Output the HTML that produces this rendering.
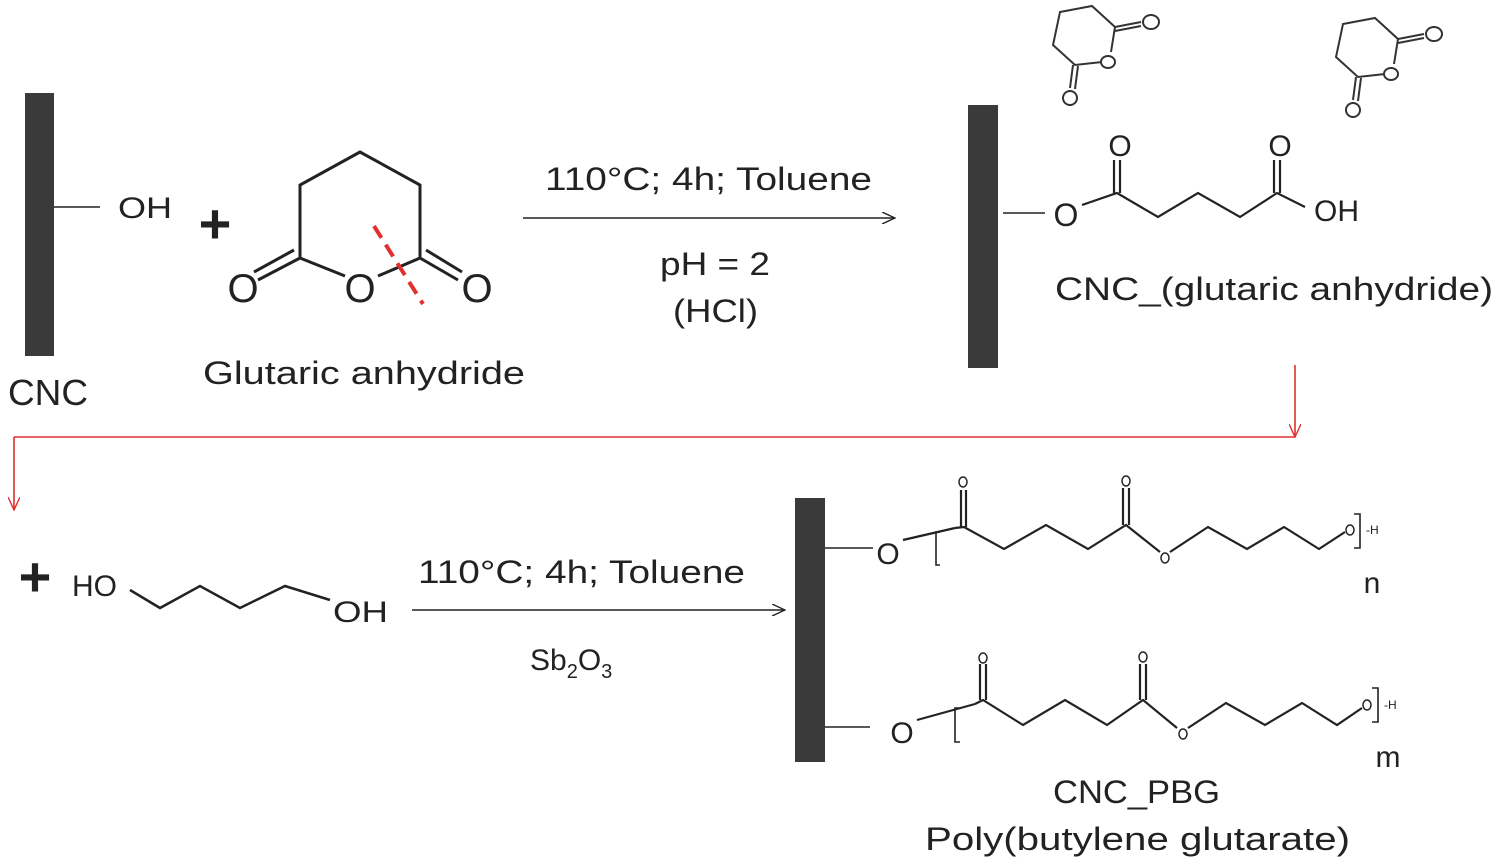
<!DOCTYPE html>
<html><head><meta charset="utf-8"><style>
html,body{margin:0;padding:0;background:#fff;}
svg{display:block;}
text{font-family:"Liberation Sans",sans-serif;fill:#222;}
</style></head><body>
<svg width="1500" height="867" viewBox="0 0 1500 867">
<defs>
<marker id="ab" markerWidth="14" markerHeight="12" refX="13" refY="6" orient="auto" markerUnits="userSpaceOnUse"><path d="M0,0 L13,6 L0,12" fill="none" stroke="#222" stroke-width="1.4"/></marker>
<marker id="ar" markerWidth="14" markerHeight="12" refX="13" refY="6" orient="auto" markerUnits="userSpaceOnUse"><path d="M0,0 L13,6 L0,12" fill="none" stroke="#e03030" stroke-width="1.4"/></marker>
</defs>
<!-- CNC 1 -->
<rect x="25" y="93" width="29" height="263" fill="#3a3a3a"/>
<line x1="54" y1="207" x2="100" y2="207" stroke="#222" stroke-width="1.5"/>
<text x="118" y="218" font-size="30" textLength="54" lengthAdjust="spacingAndGlyphs">OH</text>
<text x="8" y="405" font-size="36" textLength="80" lengthAdjust="spacingAndGlyphs">CNC</text>
<text x="215" y="243" font-size="56" text-anchor="middle" font-weight="bold">+</text>
<!-- Glutaric anhydride -->
<g stroke="#222" stroke-width="3" fill="none">
<polyline points="345,276 300,258 300,185 360,152 420,185 420,258 378,276"/>
<line x1="300" y1="258" x2="258" y2="280"/><line x1="294" y1="250" x2="254" y2="272"/>
<line x1="420" y1="258" x2="458" y2="280"/><line x1="426" y1="250" x2="462" y2="272"/>
</g>
<text x="243" y="302" font-size="40" text-anchor="middle">O</text>
<text x="360" y="302" font-size="40" text-anchor="middle">O</text>
<text x="477" y="302" font-size="40" text-anchor="middle">O</text>
<line x1="374" y1="226" x2="423" y2="304" stroke="#e03030" stroke-width="4" stroke-dasharray="14,8"/>
<text x="203" y="384" font-size="32" textLength="322" lengthAdjust="spacingAndGlyphs">Glutaric anhydride</text>
<!-- Arrow 1 -->
<line x1="523" y1="218" x2="895" y2="218" stroke="#222" stroke-width="1.4" marker-end="url(#ab)"/>
<text x="545" y="190" font-size="32" textLength="327" lengthAdjust="spacingAndGlyphs">110°C; 4h; Toluene</text>
<text x="660" y="275" font-size="32" textLength="110" lengthAdjust="spacingAndGlyphs">pH = 2</text>
<text x="673" y="322" font-size="32" textLength="85" lengthAdjust="spacingAndGlyphs">(HCl)</text>
<!-- CNC 2 -->
<rect x="968" y="105" width="30" height="263" fill="#3a3a3a"/>
<line x1="1003" y1="213" x2="1045" y2="213" stroke="#222" stroke-width="1.5"/>
<text x="1066" y="226" font-size="32" text-anchor="middle">O</text>
<g stroke="#222" stroke-width="2.2" fill="none">
<polyline points="1082,205 1117,193 1158,217 1198,193 1240,217 1277,193 1305,207"/>
<line x1="1114" y1="193" x2="1114" y2="160"/><line x1="1120" y1="193" x2="1120" y2="160"/>
<line x1="1274" y1="193" x2="1274" y2="160"/><line x1="1280" y1="193" x2="1280" y2="160"/>
</g>
<text x="1120" y="156" font-size="30" text-anchor="middle">O</text>
<text x="1280" y="156" font-size="30" text-anchor="middle">O</text>
<text x="1314" y="221" font-size="30">OH</text>
<text x="1055" y="300" font-size="32" textLength="438" lengthAdjust="spacingAndGlyphs">CNC_(glutaric anhydride)</text>
<!-- small rings -->
<g stroke="#333" stroke-width="2" fill="none">
<polyline points="1102,62 1075,65 1053,45 1060,12 1092,6 1115,27 1111,52"/>
<line x1="1115" y1="27" x2="1141" y2="22"/><line x1="1115" y1="31" x2="1141" y2="26"/>
<line x1="1073" y1="65" x2="1070" y2="88"/><line x1="1078" y1="66" x2="1075" y2="89"/>
<polyline points="1385,74 1358,77 1336,57 1343,24 1375,18 1398,39 1394,64"/>
<line x1="1398" y1="39" x2="1424" y2="34"/><line x1="1398" y1="43" x2="1424" y2="38"/>
<line x1="1356" y1="77" x2="1353" y2="100"/><line x1="1361" y1="78" x2="1358" y2="101"/>
</g>
<g stroke="#333" stroke-width="2" fill="none">
<ellipse cx="1108" cy="62" rx="7" ry="6"/><ellipse cx="1151" cy="22" rx="8" ry="7"/><ellipse cx="1070" cy="98" rx="7" ry="7"/>
<ellipse cx="1391" cy="74" rx="7" ry="6"/><ellipse cx="1434" cy="34" rx="8" ry="7"/><ellipse cx="1353" cy="110" rx="7" ry="7"/>
</g>
<!-- Red connector -->
<g stroke="#e03030" stroke-width="1.6" fill="none">
<line x1="1295" y1="365" x2="1295" y2="437" marker-end="url(#ar)"/>
<line x1="1295" y1="437" x2="14" y2="437"/>
<line x1="14" y1="437" x2="14" y2="510" marker-end="url(#ar)"/>
</g>
<!-- Butanediol -->
<text x="35" y="596" font-size="56" text-anchor="middle" font-weight="bold">+</text>
<text x="72" y="596" font-size="30">HO</text>
<polyline points="130,590 160,608 200,586 240,608 285,586 330,600" stroke="#222" stroke-width="2.5" fill="none"/>
<text x="333" y="622" font-size="30" textLength="55" lengthAdjust="spacingAndGlyphs">OH</text>
<!-- Arrow 2 -->
<line x1="412" y1="610" x2="785" y2="610" stroke="#222" stroke-width="1.4" marker-end="url(#ab)"/>
<text x="418" y="583" font-size="32" textLength="327" lengthAdjust="spacingAndGlyphs">110°C; 4h; Toluene</text>
<text x="530" y="670" font-size="30">Sb<tspan font-size="20" dy="8">2</tspan><tspan dy="-8">O</tspan><tspan font-size="20" dy="8">3</tspan></text>
<!-- CNC 3 -->
<rect x="795" y="498" width="30" height="264" fill="#3a3a3a"/>
<line x1="825" y1="548" x2="873" y2="548" stroke="#222" stroke-width="1.5"/>
<line x1="825" y1="727" x2="870" y2="727" stroke="#222" stroke-width="1.5"/>
<text x="888" y="564" font-size="30" text-anchor="middle">O</text>
<text x="902" y="743" font-size="30" text-anchor="middle">O</text>
<g stroke="#222" stroke-width="2.2" fill="none">
<line x1="903" y1="540" x2="955" y2="528"/>
<polyline points="940,532 936,532 936,565 940,565" stroke-width="1.6"/>
<polyline points="955,528 964,527 1004,549 1046,525 1088,549 1126,525 1160,552"/>
<line x1="961" y1="527" x2="961" y2="490"/><line x1="966" y1="527" x2="966" y2="490"/>
<line x1="1123" y1="525" x2="1123" y2="488"/><line x1="1129" y1="525" x2="1129" y2="488"/>
<polyline points="1170,552 1208,527 1247,549 1284,527 1319,549 1345,532"/>
<polyline points="1354,514 1360,514 1360,548 1354,548" stroke-width="1.6"/>
<line x1="917" y1="720" x2="975" y2="704"/>
<polyline points="960,708 955,708 955,742 960,742" stroke-width="1.6"/>
<polyline points="975,704 983,700 1023,725 1065,700 1107,725 1143,700 1177,728"/>
<line x1="980" y1="700" x2="980" y2="664"/><line x1="986" y1="700" x2="986" y2="664"/>
<line x1="1140" y1="700" x2="1140" y2="664"/><line x1="1146" y1="700" x2="1146" y2="664"/>
<polyline points="1188,728 1226,703 1265,725 1302,703 1337,725 1362,708"/>
<polyline points="1372,688 1378,688 1378,722 1372,722" stroke-width="1.6"/>
</g>
<g stroke="#222" stroke-width="1.5" fill="none">
<ellipse cx="963" cy="482" rx="4" ry="5"/><ellipse cx="1126" cy="481" rx="4" ry="5"/><ellipse cx="1165" cy="558" rx="4" ry="5"/><ellipse cx="1350" cy="530" rx="4" ry="5"/>
<ellipse cx="983" cy="658" rx="4" ry="5"/><ellipse cx="1143" cy="657" rx="4" ry="5"/><ellipse cx="1183" cy="734" rx="4" ry="5"/><ellipse cx="1367" cy="705" rx="4" ry="5"/>
</g>
<text x="1366" y="534" font-size="12">-H</text>
<text x="1384" y="709" font-size="12">-H</text>
<text x="1372" y="593" font-size="30" text-anchor="middle">n</text>
<text x="1388" y="767" font-size="30" text-anchor="middle">m</text>
<text x="1053" y="803" font-size="32" textLength="167" lengthAdjust="spacingAndGlyphs">CNC_PBG</text>
<text x="925" y="850" font-size="32" textLength="425" lengthAdjust="spacingAndGlyphs">Poly(butylene glutarate)</text>
</svg>
</body></html>
